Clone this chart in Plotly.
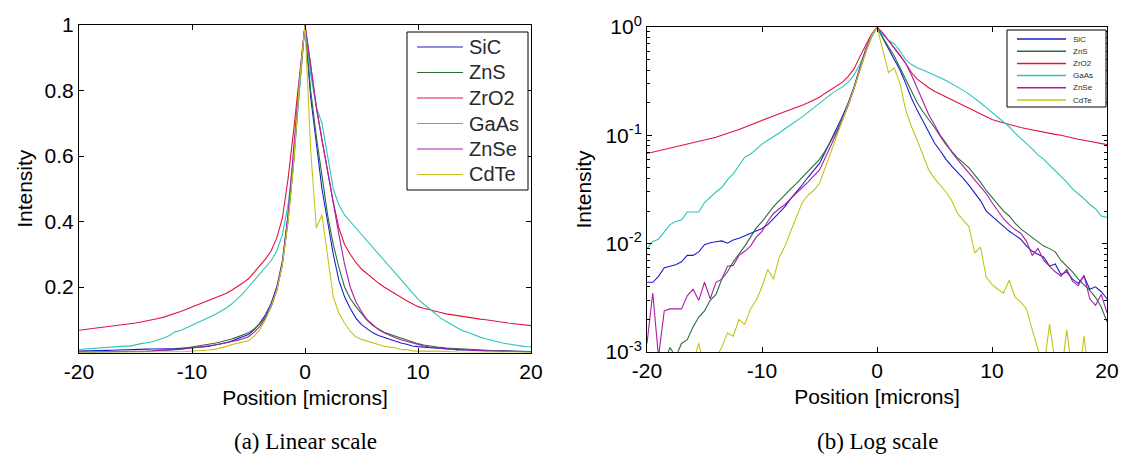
import plotly.graph_objects as go

W, H = 1125, 461

position = [-20.0, -19.5, -19.0, -18.5, -18.0, -17.5, -17.0, -16.5, -16.0, -15.5,
            -15.0, -14.5, -14.0, -13.5, -13.0, -12.5, -12.0, -11.5, -11.0, -10.5,
            -10.0, -9.5, -9.0, -8.5, -8.0, -7.5, -7.0, -6.5, -6.0, -5.5,
            -5.0, -4.5, -4.0, -3.5, -3.0, -2.5, -2.0, -1.5, -1.0, -0.5,
            0.0,
            0.5, 1.0, 1.5, 2.0, 2.5, 3.0, 3.5, 4.0, 4.5, 5.0,
            5.5, 6.0, 6.5, 7.0, 7.5, 8.0, 8.5, 9.0, 9.5, 10.0,
            10.5, 11.0, 11.5, 12.0, 12.5, 13.0, 13.5, 14.0, 14.5, 15.0,
            15.5, 16.0, 16.5, 17.0, 17.5, 18.0, 18.5, 19.0, 19.5, 20.0]

sic = [0.0044, 0.0044, 0.0050, 0.0060, 0.0062, 0.0064, 0.0068, 0.0078, 0.0078, 0.0084,
       0.0098, 0.0102, 0.0104, 0.0106, 0.0101, 0.0108, 0.0112, 0.0118, 0.0125, 0.0130,
       0.0138, 0.0150, 0.0170, 0.0190, 0.0220, 0.0260, 0.0300, 0.0350, 0.0410, 0.0480,
       0.0550, 0.0700, 0.0900, 0.115, 0.150, 0.200, 0.280, 0.420, 0.600, 0.820,
       1.0,
       0.78, 0.63, 0.50, 0.40, 0.30, 0.22, 0.17, 0.135, 0.105, 0.085,
       0.072, 0.060, 0.052, 0.046, 0.040, 0.0345, 0.029, 0.025, 0.020, 0.018,
       0.016, 0.0145, 0.013, 0.012, 0.011, 0.0095, 0.0085, 0.0080, 0.0075, 0.0062,
       0.0065, 0.0052, 0.0055, 0.0047, 0.0043, 0.0050, 0.0038, 0.0040, 0.0036, 0.0031]

zns = [0.0005, 0.0006, 0.0007, 0.0008, 0.0011, 0.0009, 0.0012, 0.0013, 0.0017, 0.0021,
       0.0024, 0.0030, 0.0034, 0.0047, 0.0055, 0.0068, 0.0080, 0.0095, 0.0115, 0.0140,
       0.0160, 0.0190, 0.0220, 0.0250, 0.0280, 0.032, 0.036, 0.041, 0.047, 0.053,
       0.060, 0.072, 0.088, 0.110, 0.140, 0.190, 0.270, 0.400, 0.580, 0.800,
       1.0,
       0.80, 0.66, 0.54, 0.42, 0.33, 0.26, 0.20, 0.165, 0.14, 0.118,
       0.098, 0.082, 0.071, 0.062, 0.056, 0.050, 0.043, 0.037, 0.031, 0.027,
       0.023, 0.020, 0.018, 0.0155, 0.0137, 0.0125, 0.0115, 0.0104, 0.0095, 0.0090,
       0.0084, 0.0070, 0.0062, 0.0055, 0.0047, 0.0042, 0.0037, 0.0032, 0.0026, 0.0019]

zro2 = [0.068, 0.070, 0.072, 0.074, 0.076, 0.078, 0.080, 0.083, 0.085, 0.088,
        0.090, 0.093, 0.096, 0.100, 0.104, 0.108, 0.113, 0.119, 0.125, 0.132,
        0.139, 0.145, 0.151, 0.158, 0.165, 0.172, 0.180, 0.190, 0.200, 0.212,
        0.225, 0.245, 0.265, 0.285, 0.31, 0.35, 0.41, 0.53, 0.68, 0.85,
        1.0,
        0.88, 0.75, 0.65, 0.55, 0.46, 0.38, 0.33, 0.30, 0.275, 0.255,
        0.24, 0.225, 0.212, 0.200, 0.189, 0.178, 0.168, 0.158, 0.149, 0.140,
        0.135, 0.130, 0.126, 0.122, 0.118, 0.115, 0.112, 0.110, 0.107, 0.105,
        0.102, 0.100, 0.097, 0.095, 0.092, 0.090, 0.088, 0.086, 0.084, 0.082]

gaas = [0.0090, 0.0105, 0.0110, 0.0130, 0.0150, 0.0160, 0.0165, 0.0196, 0.0196, 0.0196,
        0.0240, 0.0270, 0.0300, 0.0330, 0.0390, 0.0440, 0.0520, 0.0630, 0.0670, 0.0750,
        0.0830, 0.090, 0.097, 0.105, 0.115, 0.125, 0.135, 0.148, 0.163, 0.180,
        0.200, 0.220, 0.240, 0.260, 0.280, 0.310, 0.360, 0.450, 0.600, 0.800,
        1.0,
        0.85, 0.75, 0.70, 0.60, 0.50, 0.45, 0.42, 0.40, 0.38, 0.36,
        0.34, 0.32, 0.30, 0.28, 0.26, 0.24, 0.22, 0.20, 0.18, 0.163,
        0.148, 0.135, 0.120, 0.105, 0.094, 0.085, 0.075, 0.066, 0.060, 0.053,
        0.047, 0.042, 0.037, 0.032, 0.029, 0.026, 0.023, 0.021, 0.018, 0.0175]

znse = [0.0012, 0.0035, 0.0009, 0.0024, 0.0025, 0.0025, 0.0025, 0.0033, 0.0038, 0.0030,
        0.0044, 0.0031, 0.0044, 0.0047, 0.0062, 0.0063, 0.0078, 0.0085, 0.0095, 0.0115,
        0.0130, 0.0160, 0.0190, 0.0210, 0.0230, 0.026, 0.029, 0.033, 0.037, 0.042,
        0.048, 0.062, 0.080, 0.105, 0.140, 0.190, 0.270, 0.420, 0.620, 0.830,
        1.0,
        0.88, 0.75, 0.65, 0.55, 0.46, 0.36, 0.27, 0.20, 0.155, 0.125,
        0.100, 0.085, 0.070, 0.060, 0.052, 0.045, 0.039, 0.034, 0.029, 0.024,
        0.020, 0.017, 0.015, 0.0135, 0.0125, 0.0105, 0.0078, 0.0090, 0.0070, 0.0062,
        0.0055, 0.0050, 0.0058, 0.0045, 0.0041, 0.0051, 0.0031, 0.0027, 0.0034, 0.0023]

cdte = [0.0003, 0.0003, 0.0004, 0.0004, 0.0005, 0.0005, 0.0006, 0.0007, 0.0008, 0.0012,
        0.0007, 0.0008, 0.0009, 0.0011, 0.0015, 0.0014, 0.0020, 0.0018, 0.0025, 0.0030,
        0.0040, 0.0058, 0.0047, 0.0075, 0.0095, 0.013, 0.018, 0.024, 0.028, 0.031,
        0.036, 0.050, 0.070, 0.100, 0.140, 0.190, 0.270, 0.400, 0.580, 0.820,
        1.0,
        0.62, 0.38, 0.42, 0.30, 0.17, 0.12, 0.090, 0.065, 0.048, 0.040,
        0.035, 0.030, 0.025, 0.019, 0.0165, 0.0144, 0.0082, 0.0093, 0.0049, 0.0042,
        0.0038, 0.0035, 0.0046, 0.0032, 0.0029, 0.0025, 0.0016, 0.0011, 0.0007, 0.0018,
        0.0008, 0.0006, 0.0016, 0.0006, 0.0005, 0.0014, 0.0005, 0.0004, 0.0004, 0.0003]

names = ["SiC", "ZnS", "ZrO2", "GaAs", "ZnSe", "CdTe"]
series = [sic, zns, zro2, gaas, znse, cdte]
colors = ["#1c1cc8", "#2a6e3a", "#e0143c", "#2cc4bc", "#a81fa8", "#c4c41c"]

lin_yticks = [0.2, 0.4, 0.6, 0.8, 1.0]
lin_yticktext = ["0.2", "0.4", "0.6", "0.8", "1"]
x_ticks = [-20, -10, 0, 10, 20]
x_ticktext = ["-20", "-10", "0", "10", "20"]
log_yticks = [0.001, 0.01, 0.1, 1]
log_yticktext = ["10<sup>-3</sup>", "10<sup>-2</sup>", "10<sup>-1</sup>", "10<sup>0</sup>"]
log_minor = [m * d for d in (0.001, 0.01, 0.1) for m in range(2, 10)]

SANS = "Liberation Sans, Arial, sans-serif"
SERIF = "Liberation Serif, Times New Roman, serif"
TICK = 21
TITLE = 21


def px(xp):
    return xp / W


def py(yp):
    return 1 - yp / H


fig = go.Figure()
for nm, ys, c in zip(names, series, colors):
    fig.add_trace(go.Scatter(x=position, y=ys, name=nm, mode="lines",
                             line=dict(color=c, width=1.1),
                             xaxis="x", yaxis="y", showlegend=False))
for nm, ys, c in zip(names, series, colors):
    fig.add_trace(go.Scatter(x=position, y=ys, name=nm, mode="lines",
                             line=dict(color=c, width=1.1),
                             xaxis="x2", yaxis="y2", showlegend=False))

axis_common = dict(showline=True, linecolor="black", linewidth=1, mirror="ticks",
                   ticks="inside", ticklen=5, tickcolor="black", showgrid=False,
                   zeroline=False, automargin=False,
                   tickfont=dict(family=SANS, size=TICK, color="black"))
title_font = dict(family=SANS, size=TITLE, color="black")

fig.update_layout(
    width=W, height=H,
    margin=dict(l=0, r=0, t=0, b=0),
    paper_bgcolor="white", plot_bgcolor="white",
    xaxis=dict(domain=[px(79), px(531)], range=[-20, 20], tickvals=x_ticks,
               ticktext=x_ticktext, anchor="y",
               title=dict(text="Position [microns]", standoff=8, font=title_font),
               **axis_common),
    yaxis=dict(domain=[py(352.5), py(25)], range=[0, 1], tickvals=lin_yticks,
               ticktext=lin_yticktext, anchor="x",
               title=dict(text="Intensity", standoff=6, font=title_font),
               **axis_common),
    xaxis2=dict(domain=[px(647), px(1107)], range=[-20, 20], tickvals=x_ticks,
                ticktext=x_ticktext, anchor="y2",
                title=dict(text="Position [microns]", standoff=8, font=title_font),
                **axis_common),
    yaxis2=dict(domain=[py(352), py(27)], type="log", range=[-3, 0],
                tickvals=log_yticks, ticktext=log_yticktext, anchor="x2",
                minor=dict(tickvals=log_minor, ticks="inside", ticklen=3,
                           tickcolor="black", showgrid=False),
                title=dict(text="Intensity", standoff=8, font=title_font),
                **axis_common),
    showlegend=False,
)


def legend_box(box, y_first, step, line_x, text_x, fsize, lw):
    x0, y0, x1, y1 = box
    shp = [dict(type="rect", xref="paper", yref="paper",
                x0=px(x0), x1=px(x1), y0=py(y1), y1=py(y0),
                line=dict(color="black", width=1), fillcolor="white", layer="above")]
    ann = []
    for i, (nm, c) in enumerate(zip(names, colors)):
        yc = y_first + i * step
        shp.append(dict(type="line", xref="paper", yref="paper",
                        x0=px(line_x[0]), x1=px(line_x[1]), y0=py(yc), y1=py(yc),
                        line=dict(color=c, width=lw), layer="above"))
        ann.append(dict(xref="paper", yref="paper", x=px(text_x), y=py(yc),
                        xanchor="left", yanchor="middle", text=nm, showarrow=False,
                        font=dict(family=SANS, size=fsize, color="#2a2a2a")))
    return shp, ann


s1, a1 = legend_box((407, 32, 528, 190), 47, 25.5, (417, 463), 467, 20, 1.2)
s2, a2 = legend_box((1007, 30, 1106, 107), 39, 12.2, (1017, 1066), 1071, 8, 1.5)
shapes = s1 + s2
annotations = a1 + a2

annotations.append(dict(xref="paper", yref="paper", x=px(305), y=py(441),
                        xanchor="center", yanchor="middle", text="(a) Linear scale",
                        showarrow=False, font=dict(family=SERIF, size=23, color="black")))
annotations.append(dict(xref="paper", yref="paper", x=px(877), y=py(441),
                        xanchor="center", yanchor="middle", text="(b) Log scale",
                        showarrow=False, font=dict(family=SERIF, size=23, color="black")))

fig.update_layout(shapes=shapes, annotations=annotations)

fig.write_html("out.html")
